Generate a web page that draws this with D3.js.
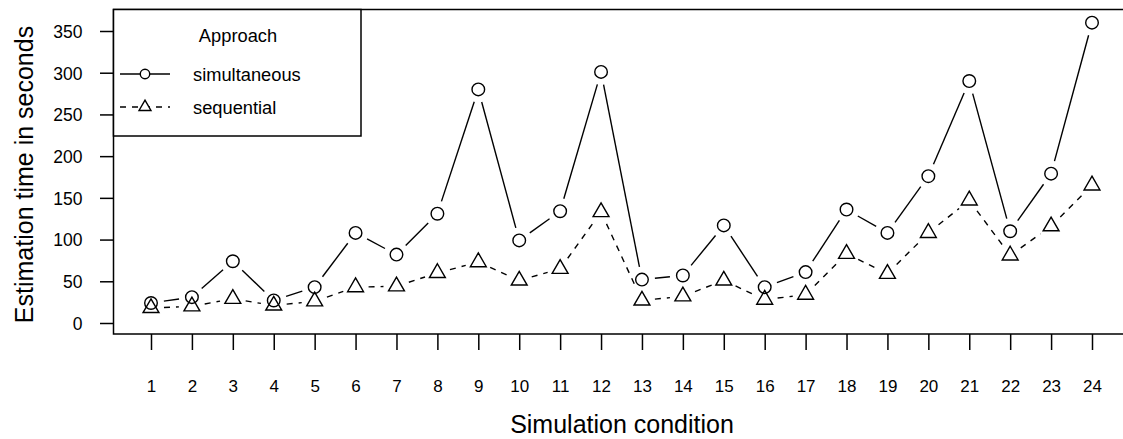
<!DOCTYPE html>
<html>
<head>
<meta charset="utf-8">
<script src="https://cdn.jsdelivr.net/npm/d3@7/dist/d3.min.js"></script>
<style>
  html, body { margin: 0; padding: 0; background: #fff; }
  svg { display: block; font-family: "Liberation Sans", Arial, Helvetica, sans-serif; }
</style>
</head>
<body>
<svg id="chart" width="1123" height="439"></svg>
<script>
// ---- data ----
const conditions = [1,2,3,4,5,6,7,8,9,10,11,12,13,14,15,16,17,18,19,20,21,22,23,24];
const simultaneous = [24,31,74,27,43,108,82,131,280,99,134,301,52,57,117,43,61,136,108,176,290,110,179,360];
const sequential   = [18,20,29,21,26,43,44,60,73,51,65,133,27,32,51,28,34,83,59,108,147,81,116,165];
const yTicks = [0,50,100,150,200,250,300,350];
const seriesNames = ["simultaneous","sequential"];
const legendTitle = "Approach";
const xTitle = "Simulation condition";
const yTitle = "Estimation time in seconds";

// ---- layout ----
const plot = { left: 113.5, top: 9.5, bottom: 334, right: 1123 };
const svg = d3.select("#chart");

const x = d3.scaleLinear().domain([1, 24]).range([151, 1092]);
const y = d3.scaleLinear().domain([0, 350]).range([323, 31]);

// box (open right side, as clipped)
svg.append("path").attr("d", `M${plot.right},${plot.top}H${plot.left}V${plot.bottom}H${plot.right}`)
  .attr("stroke", "#000").attr("stroke-width", 1.5).attr("fill", "none");

// y axis
const yAxis = d3.axisLeft(y).tickValues(yTicks).tickSize(13.5).tickFormat(d3.format("d"));
const gy = svg.append("g").attr("transform", `translate(${plot.left},0)`).call(yAxis);
gy.attr("font-size", null).attr("font-family", null);
gy.select(".domain").remove();
gy.selectAll(".tick line").attr("stroke", "#000").attr("stroke-width", 1.5);
gy.selectAll(".tick text").attr("font-size", 17.5).attr("fill", "#000")
  .attr("x", -31).attr("dy", "0.36em");

// x axis
const xAxis = d3.axisBottom(x).tickValues(conditions).tickSize(16).tickFormat(d3.format("d"));
const gx = svg.append("g").attr("transform", `translate(0,${plot.bottom})`).call(xAxis);
gx.attr("font-size", null).attr("font-family", null);
gx.select(".domain").remove();
gx.selectAll(".tick line").attr("stroke", "#000").attr("stroke-width", 1.5);
gx.selectAll(".tick text").attr("font-size", 17).attr("fill", "#000")
  .attr("y", 57.8).attr("dy", 0);

// axis titles
svg.append("text").attr("x", 622).attr("y", 433).attr("text-anchor", "middle")
  .attr("font-size", 25).text(xTitle);
svg.append("text").attr("transform", "translate(33,174.5) rotate(-90)").attr("text-anchor", "middle")
  .attr("font-size", 25).text(yTitle);

// type="b" lines with gaps around points
const GAP = 13;
function gappedSegments(vals) {
  const pts = vals.map((v, i) => [x(conditions[i]), y(v)]);
  const segs = [];
  for (let i = 0; i < pts.length - 1; i++) {
    const [x0, y0] = pts[i], [x1, y1] = pts[i + 1];
    const dx = x1 - x0, dy = y1 - y0, L = Math.hypot(dx, dy);
    if (L > 2 * GAP) {
      const ux = dx / L, uy = dy / L;
      segs.push([x0 + ux * GAP, y0 + uy * GAP, x1 - ux * GAP, y1 - uy * GAP]);
    }
  }
  return segs;
}
const lineW = 1.4;
svg.append("g").selectAll("line").data(gappedSegments(simultaneous)).join("line")
  .attr("x1", d => d[0]).attr("y1", d => d[1]).attr("x2", d => d[2]).attr("y2", d => d[3])
  .attr("stroke", "#000").attr("stroke-width", lineW);
svg.append("g").selectAll("line").data(gappedSegments(sequential)).join("line")
  .attr("x1", d => d[0]).attr("y1", d => d[1]).attr("x2", d => d[2]).attr("y2", d => d[3])
  .attr("stroke", "#000").attr("stroke-width", lineW).attr("stroke-dasharray", "6,6");

// markers
const R = 6.3;
const s = 5.9;
function triPath(cx, cy, k) {
  const r = 1.555 * s * k, xc = 1.347 * s * k, yc = 0.778 * s * k;
  return `M${cx},${cy - r}L${cx + xc},${cy + yc}L${cx - xc},${cy + yc}Z`;
}
svg.append("g").selectAll("circle").data(simultaneous).join("circle")
  .attr("cx", (d, i) => x(conditions[i])).attr("cy", d => y(d)).attr("r", R)
  .attr("fill", "none").attr("stroke", "#000").attr("stroke-width", lineW);
svg.append("g").selectAll("path").data(sequential).join("path")
  .attr("d", (d, i) => triPath(x(conditions[i]), y(d), 1))
  .attr("fill", "none").attr("stroke", "#000").attr("stroke-width", lineW);

// legend
const lg = svg.append("g");
lg.append("rect").attr("x", plot.left).attr("y", plot.top).attr("width", 361 - plot.left).attr("height", 136 - plot.top)
  .attr("fill", "#fff").attr("stroke", "#000").attr("stroke-width", 1.5);
lg.append("text").attr("x", 238).attr("y", 41.5).attr("text-anchor", "middle").attr("font-size", 18.3).text(legendTitle);
const rows = [{ y: 74, dash: null, name: seriesNames[0], mark: "circle" },
              { y: 107, dash: "6,6", name: seriesNames[1], mark: "tri" }];
rows.forEach(r => {
  lg.append("line").attr("x1", 120).attr("x2", 170).attr("y1", r.y).attr("y2", r.y)
    .attr("stroke", "#000").attr("stroke-width", lineW).attr("stroke-dasharray", r.dash);
  if (r.mark === "circle") {
    lg.append("circle").attr("cx", 145).attr("cy", r.y).attr("r", R * 0.75)
      .attr("fill", "#fff").attr("stroke", "#000").attr("stroke-width", lineW);
  } else {
    lg.append("path").attr("d", triPath(145, r.y, 0.75))
      .attr("fill", "#fff").attr("stroke", "#000").attr("stroke-width", lineW);
  }
  lg.append("text").attr("x", 193).attr("y", r.y + 7).attr("font-size", 18.3).text(r.name);
});
</script>
</body>
</html>
